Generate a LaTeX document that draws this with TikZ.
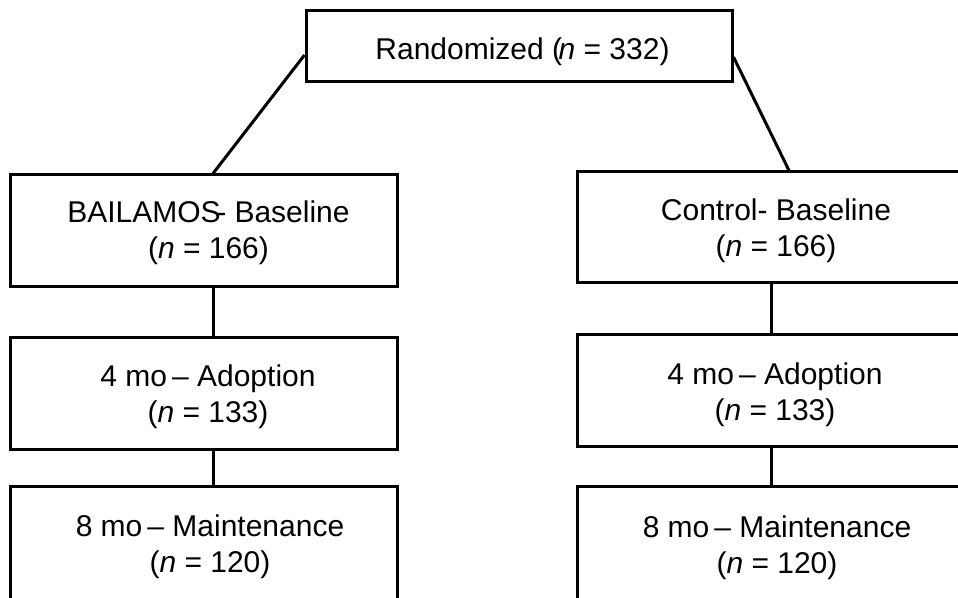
\documentclass[tikz,border=0pt]{standalone}
\usepackage{fontspec}
\setmainfont{Liberation Sans}
\begin{document}
\begin{tikzpicture}[x=0.75pt,y=-0.75pt,
  box/.style={draw, line width=2.25pt, rectangle, inner sep=0pt},
  sidebox/.style={box, minimum width=289.9pt, minimum height=84pt},
  rightbox/.style={box, minimum width=298.5pt, minimum height=84pt},
  txt/.style={align=center, inner sep=0pt, font=\fontsize{22.5}{27}\selectfont},
  conn/.style={line width=2.25pt}]
\useasboundingbox (0,0) rectangle (958,598);
\clip (0,0) rectangle (958,598);
% boxes
\node[box, minimum width=319.5pt, minimum height=53.25pt] (top) at (519,46.5) {};
\node[sidebox] (lb1) at (203.75,231) {};
\node[sidebox] (lb2) at (203.75,394) {};
\node[sidebox, minimum height=85.5pt] (lb3) at (203.75,544) {};
\node[rightbox, minimum height=83.25pt] (rb1) at (776,227.5) {};
\node[rightbox] (rb2) at (776,391) {};
\node[rightbox, minimum height=85.5pt] (rb3) at (776,544) {};
% texts
\node[txt] (topt) at (522.5,51.3) {Randomized (\kern-0.12em\textit{n} = 332)};
\node[txt] (lb1t) at (208.5,232.4) {BAILAMOS\kern-0.15em- Baseline\\(\textit{n} = 166)};
\node[txt] (lb2t) at (208,396.4) {4 mo\,– Adoption\\(\textit{n} = 133)};
\node[txt] (lb3t) at (210,546.4) {8 mo\,– Maintenance\\(\textit{n} = 120)};
\node[txt] (rb1t) at (776,230.4) {Control- Baseline\\(\textit{n} = 166)};
\node[txt] (rb2t) at (775,394.4) {4 mo\,– Adoption\\(\textit{n} = 133)};
\node[txt] (rb3t) at (777,547.4) {8 mo\,– Maintenance\\(\textit{n} = 120)};
% connectors
\coordinate (lx) at (213,0);
\coordinate (rx) at (771,0);
\coordinate (rdx) at (789,0);
\draw[conn] ([yshift=-6.4pt]top.west) -- (lb1.north -| lx);
\draw[conn] ([yshift=-7.9pt]top.east) -- (rb1.north -| rdx);
\draw[conn] (lb1.south -| lx) -- (lb2.north -| lx);
\draw[conn] (lb2.south -| lx) -- (lb3.north -| lx);
\draw[conn] (rb1.south -| rx) -- (rb2.north -| rx);
\draw[conn] (rb2.south -| rx) -- (rb3.north -| rx);
\end{tikzpicture}
\end{document}
